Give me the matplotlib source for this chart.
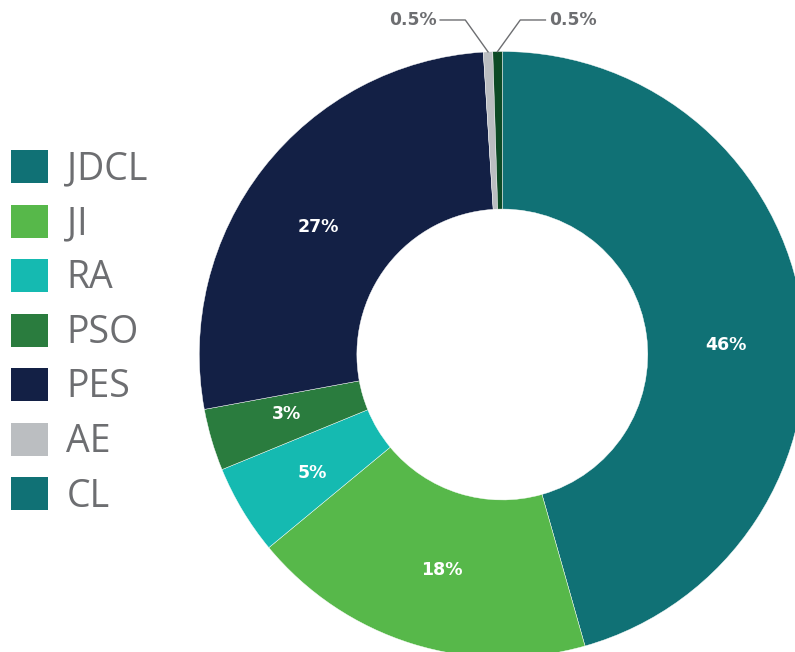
import matplotlib
matplotlib.use("Agg")
import matplotlib.pyplot as plt
from matplotlib.patches import Patch
import numpy as np

# data
names = ["JDCL", "JI", "RA", "PSO", "PES", "AE", "CL"]
shares = [45.6, 18.4, 4.8, 3.3, 26.9, 0.5, 0.5]
slice_colors = ["#107175", "#57b84a", "#15bab1", "#2a7c3e", "#132045", "#bbbec1", "#0c4a25"]
legend_colors = ["#107175", "#57b84a", "#15bab1", "#2a7c3e", "#132045", "#bbbec1", "#107175"]
# label angle nudges (deg, clockwise) to match where the original put them
label_nudge = [5.5, -1.6, -1.0, 1.0, -3.2, 0, 0]

GREY = "#6d6e71"
W, H = 795, 652

fig = plt.figure(figsize=(W / 100, H / 100), dpi=100)

# pie centre / radius in pixels (from top-left)
cx, cy, R = 502.3, 354.5, 303
ax = fig.add_axes([(cx - R) / W, (H - cy - R) / H, 2 * R / W, 2 * R / H])


def pct_label(p):
    return "" if p < 1 else "%.0f%%" % p


wedges, _, autotexts = ax.pie(shares, colors=slice_colors, startangle=90, counterclock=False,
                              radius=1, autopct=pct_label, pctdistance=0.74,
                              wedgeprops=dict(width=0.52, edgecolor="white", linewidth=0.3),
                              textprops=dict(color="white", fontsize=12.5, fontweight="bold",
                                             family="DejaVu Sans"))
ax.set_xlim(-1, 1)
ax.set_ylim(-1, 1)

for w, t, d in zip(wedges, autotexts, label_nudge):
    a = np.deg2rad((w.theta1 + w.theta2) / 2 - d)
    t.set_position((0.74 * np.cos(a), 0.74 * np.sin(a)))

# callouts for the tiny slices
for w, p, side in [(wedges[5], shares[5], -1), (wedges[6], shares[6], 1)]:
    mid = np.deg2rad((w.theta1 + w.theta2) / 2)
    x0, y0 = np.cos(mid), np.sin(mid)
    ey = 1.104
    ex = x0 + side * 0.075
    hx = ex + side * 0.083
    ax.plot([x0, ex, hx], [y0, ey, ey], color=GREY, lw=1, clip_on=False)
    ax.text(hx + side * 0.012, ey, "%.1f%%" % p, color=GREY, fontsize=12.3, fontweight="bold",
            ha="left" if side > 0 else "right", va="center", clip_on=False)

handles = [Patch(facecolor=c, edgecolor="none") for c in legend_colors]
fig.legend(handles, names, loc="upper left", bbox_to_anchor=(11 / W, 1 - 150 / H),
           frameon=False, prop=dict(family="Open Sans", size=27), labelcolor=GREY,
           handlelength=0.98, handleheight=0.98, handletextpad=0.5, labelspacing=0.43,
           borderaxespad=0, borderpad=0)

fig.savefig("out.png", dpi=100)
